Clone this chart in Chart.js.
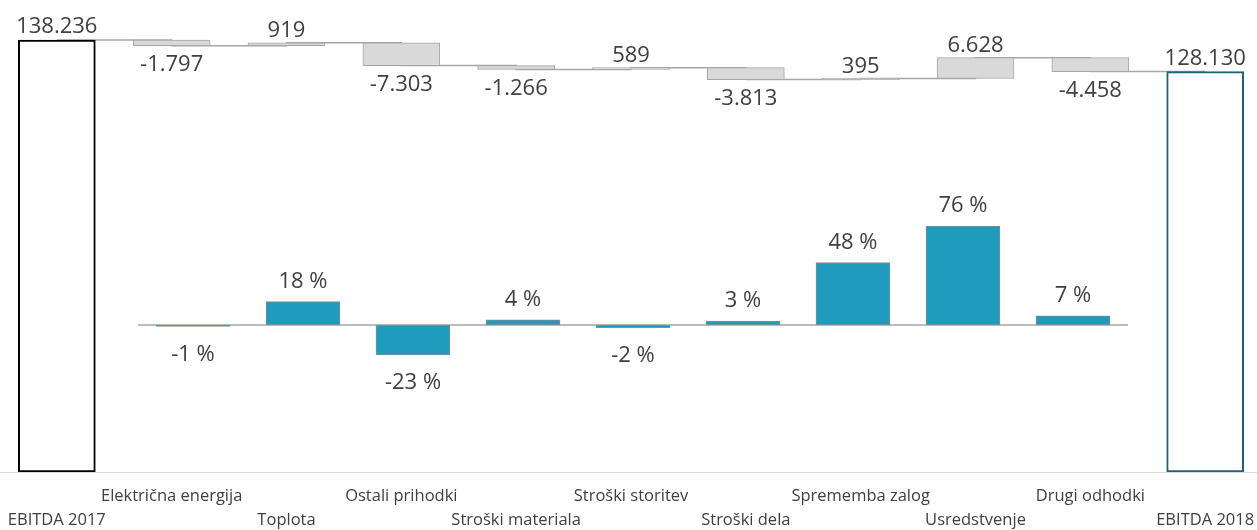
<!DOCTYPE html>
<html><head><meta charset="utf-8">
<style>html,body{margin:0;padding:0;background:#fff;overflow:hidden}</style>
<script src="https://cdn.jsdelivr.net/npm/chart.js@4"></script>
</head><body>
<canvas id="c" width="1270" height="544" style="display:block;margin-left:-4px"></canvas>
<script>
const categories = ['EBITDA 2017','Električna energija','Toplota','Ostali prihodki','Stroški materiala','Stroški storitev','Stroški dela','Sprememba zalog','Usredstvenje','Drugi odhodki','EBITDA 2018'];
const startValue = 138236;
const changes = [-1797, 919, -7303, -1266, 589, -3813, 395, 6628, -4458];
const endValue = 128130;
const pctValues = [-1, 18, -23, 4, -2, 3, 48, 76, 7];

const floating = [[0, startValue]];
const levels = [startValue];
let run = startValue;
changes.forEach(c => { floating.push([run, run + c]); run += c; levels.push(run); });
floating.push([0, endValue]);
levels.push(endValue);

const n = categories.length;
const bg = categories.map((_, i) => i === 0 || i === n - 1 ? '#ffffff' : '#d9d9d9');
const bc = categories.map((_, i) => i === 0 ? '#000000' : (i === n - 1 ? '#1f5f7f' : '#a6a6a6'));
const bw = categories.map((_, i) => i === 0 || i === n - 1 ? 2 : 1);

function fmt(v) {
  const s = Math.abs(v).toString().replace(/\B(?=(\d{3})+(?!\d))/g, '.');
  return (v < 0 ? '-' : '') + s;
}

const TEXT = '#404040';
const FONT = '"Open Sans", "DejaVu Sans", sans-serif';

const labelPlugin = {
  id: 'vlabels',
  afterDatasetsDraw(chart) {
    const ctx = chart.ctx;
    ctx.save();
    ctx.font = '22px ' + FONT;
    ctx.fillStyle = TEXT;
    ctx.textAlign = 'center';
    ctx.textBaseline = 'middle';
    const wf = chart.getDatasetMeta(1);
    wf.data.forEach((el, i) => {
      const top = Math.min(el.y, el.base), bot = Math.max(el.y, el.base);
      let txt, y;
      if (i === 0) { txt = fmt(startValue); y = top - 13; }
      else if (i === n - 1) { txt = fmt(endValue); y = top - 13; }
      else {
        const c = changes[i - 1];
        txt = fmt(c);
        y = c >= 0 ? top - 12 : bot + 19;
      }
      ctx.fillText(txt, el.x, y);
    });
    const pm = chart.getDatasetMeta(3);
    pm.data.forEach((el, i) => {
      const v = pctValues[i];
      const top = Math.min(el.y, el.base), bot = Math.max(el.y, el.base);
      const y = v >= 0 ? top - 20 : bot + 28;
      ctx.fillText(v + ' %', el.x, y);
    });
    ctx.restore();
  }
};

const X2MIN = -193.6 / 110;
new Chart(document.getElementById('c'), {
  data: {
    labels: categories,
    datasets: [
      { type: 'line', data: levels, xAxisID: 'x', yAxisID: 'y', stepped: 'before', borderColor: '#a6a6a6', borderWidth: 1.5, pointRadius: 0, fill: false, order: 3 },
      { type: 'bar', data: floating, xAxisID: 'x', yAxisID: 'y', grouped: false, backgroundColor: bg, borderColor: bc, borderWidth: bw, borderSkipped: false, barThickness: 77, order: 1 },
      { type: 'line', data: [{x: -0.5, y: 0}, {x: 8.5, y: 0}], xAxisID: 'x2', yAxisID: 'y2', borderColor: '#a6a6a6', borderWidth: 1.5, pointRadius: 0, fill: false, order: 3 },
      { type: 'bar', data: pctValues.map((v, i) => ({x: i, y: v})), xAxisID: 'x2', yAxisID: 'y2', grouped: false, backgroundColor: '#1f9cbd', borderColor: '#8c8c8c', borderWidth: 1, borderSkipped: false, barThickness: 74, order: 1 }
    ]
  },
  options: {
    responsive: false,
    devicePixelRatio: 1,
    animation: false,
    layout: { padding: 0 },
    plugins: { legend: { display: false }, tooltip: { enabled: false } },
    scales: {
      x: {
        type: 'category', offset: true,
        grid: { display: false, drawTicks: false },
        border: { display: true, color: '#d9d9d9', width: 1 },
        ticks: {
          autoSkip: false, maxRotation: 0, minRotation: 0, padding: 12,
          color: TEXT, font: { family: FONT, size: 16.5, lineHeight: 24 / 16.5 },
          callback: function (val, i) { const l = categories[i]; return i % 2 === 1 ? [l, ''] : ['', l]; }
        }
      },
      x2: { type: 'linear', display: false, offset: false, bounds: 'data', grid: { offset: false }, min: X2MIN, max: X2MIN + 1263.2 / 110 },
      y: { display: false, min: 0, max: 151040 },
      y2: { display: false, min: -113.08, max: 250 }
    }
  },
  plugins: [labelPlugin]
});
</script>
</body></html>
